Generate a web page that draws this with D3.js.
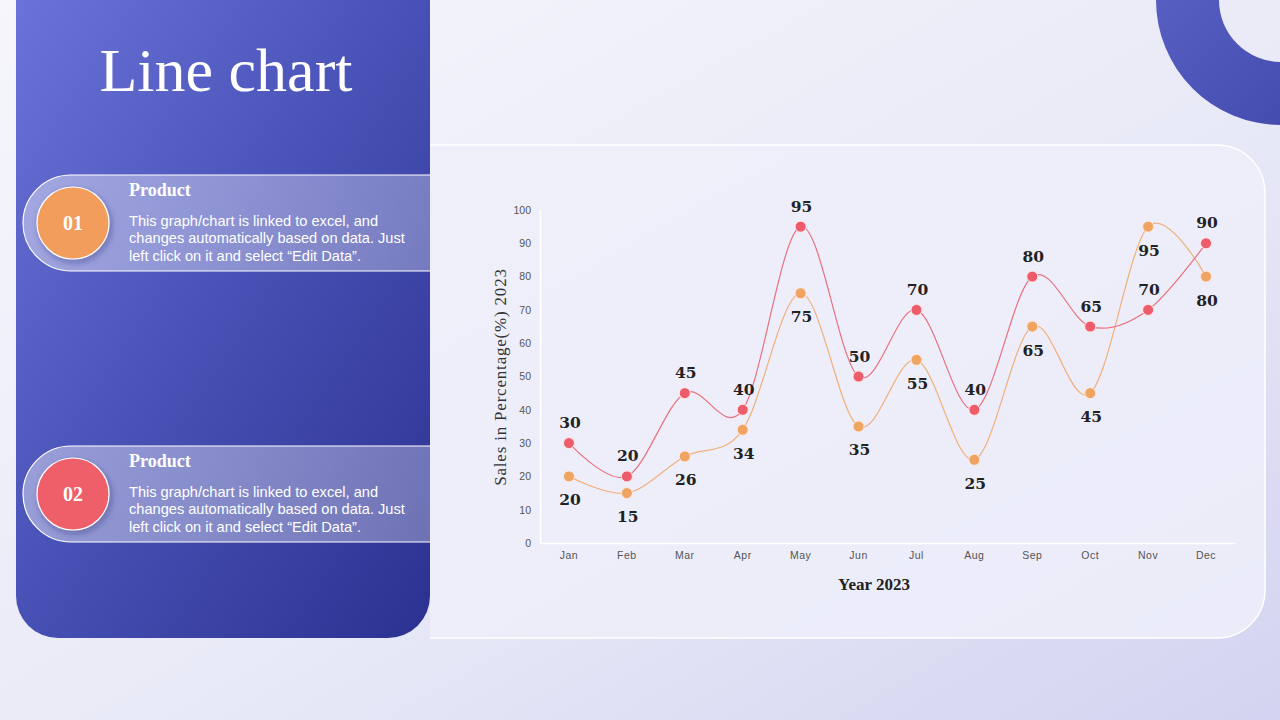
<!doctype html>
<html lang="en">
  <head>
    <title>Line chart</title>
    <style>
      * {
        box-sizing: border-box;
      }

      body {
        margin: 0;
        width: 1280px;
        height: 720px;
        overflow: hidden;
      }
    </style>
  </head>
  <body>
    <div id="slide"></div>

    <script src="https://cdn.jsdelivr.net/npm/d3@7"></script>
    <script>
      const months = ['Jan', 'Feb', 'Mar', 'Apr', 'May', 'Jun', 'Jul', 'Aug', 'Sep', 'Oct', 'Nov', 'Dec']
      const product01 = [20, 15, 26, 34, 75, 35, 55, 25, 65, 45, 95, 80]
      const product02 = [30, 20, 45, 40, 95, 50, 70, 40, 80, 65, 70, 90]
      const yTicks = [0, 10, 20, 30, 40, 50, 60, 70, 80, 90, 100]
      const cardText = ['This graph/chart is linked to excel, and', 'changes automatically based on data. Just', 'left click on it and select “Edit Data”.']

      const width = 1280
      const height = 720
      const serif = '"Liberation Serif", "DejaVu Serif", serif'
      const labelFont = '"DejaVu Serif", serif'
      const sans = '"Liberation Sans", Arial, sans-serif'

      const svg = d3.select('#slide')
        .append('svg')
          .attr('width', width)
          .attr('height', height)

      const defs = svg.append('defs')

      function gradient(id, stops, x1, y1, x2, y2) {
        const g = defs.append('linearGradient')
          .attr('id', id)
          .attr('x1', x1).attr('y1', y1).attr('x2', x2).attr('y2', y2)
        stops.forEach(([o, c, a]) => {
          g.append('stop').attr('offset', o).attr('stop-color', c).attr('stop-opacity', a ?? 1)
        })
      }

      gradient('bg', [[0, '#f6f6fc'], [0.55, '#e9eaf7'], [1, '#d2d3f0']], 0, 0, 1, 1)
      gradient('panel', [[0, '#6b73d8'], [0.5, '#4750b4'], [1, '#2b3190']], 0, 0, 1, 1)
      gradient('ring', [[0, '#6068cc'], [1, '#3c43a6']], 0, 0, 1, 1)
      gradient('card', [[0, '#ffffff', 0.42], [1, '#ffffff', 0.3]], 0, 0, 1, 0)

      const shadow = defs.append('filter').attr('id', 'shadow')
        .attr('x', '-30%').attr('y', '-30%').attr('width', '160%').attr('height', '160%')
      shadow.append('feDropShadow')
        .attr('dx', 2).attr('dy', 3).attr('stdDeviation', 3)
        .attr('flood-color', '#1c1f60').attr('flood-opacity', 0.35)

      // background
      svg.append('rect')
        .attr('width', width).attr('height', height)
        .attr('fill', 'url(#bg)')

      // top-right ring
      svg.append('path')
        .attr('transform', 'translate(1281, 0)')
        .attr('d', d3.arc()({ innerRadius: 62, outerRadius: 125, startAngle: 0, endAngle: 2 * Math.PI }))
        .attr('fill', 'url(#ring)')

      // chart card
      const cx0 = 430, cy0 = 145, cx1 = 1265, cy1 = 638, cr = 48
      svg.append('path')
        .attr('d', `M${cx0},${cy0} H${cx1 - cr} A${cr},${cr} 0 0 1 ${cx1},${cy0 + cr} V${cy1 - cr} A${cr},${cr} 0 0 1 ${cx1 - cr},${cy1} H${cx0}`)
        .attr('fill', '#eeeffa')
        .attr('fill-opacity', 0.85)
        .attr('stroke', '#ffffff')
        .attr('stroke-width', 1.5)

      // left panel
      const px0 = 16, px1 = 430, py1 = 638, pr = 42
      svg.append('path')
        .attr('d', `M${px0},0 H${px1} V${py1 - pr} A${pr},${pr} 0 0 1 ${px1 - pr},${py1} H${px0 + pr} A${pr},${pr} 0 0 1 ${px0},${py1 - pr} Z`)
        .attr('fill', 'url(#panel)')

      svg.append('text')
        .attr('x', 226).attr('y', 91)
        .attr('text-anchor', 'middle')
        .attr('fill', '#ffffff')
        .attr('font-family', serif)
        .attr('font-size', 62)
        .text('Line chart')

      function productCard(top, num, color) {
        const h = 96, r = h / 2, left = 23, right = 430
        const g = svg.append('g')
        g.append('path')
          .attr('d', `M${right},${top} H${left + r} A${r},${r} 0 0 0 ${left + r},${top + h} H${right}`)
          .attr('fill', 'url(#card)')
          .attr('stroke', '#ffffff')
          .attr('stroke-width', 1.2)
        g.append('circle')
          .attr('cx', 73).attr('cy', top + r).attr('r', 36)
          .attr('fill', color)
          .attr('stroke', '#ffffff')
          .attr('stroke-width', 1.2)
          .attr('filter', 'url(#shadow)')
        g.append('text')
          .attr('x', 73).attr('y', top + r + 7)
          .attr('text-anchor', 'middle')
          .attr('fill', '#ffffff')
          .attr('font-family', serif)
          .attr('font-weight', 'bold')
          .attr('font-size', 20)
          .text(num)
        g.append('text')
          .attr('x', 129).attr('y', top + 21)
          .attr('fill', '#ffffff')
          .attr('font-family', serif)
          .attr('font-weight', 'bold')
          .attr('font-size', 18)
          .text('Product')
        g.append('text')
          .attr('fill', '#ffffff')
          .attr('font-family', sans)
          .attr('font-size', 14.6)
          .selectAll('tspan').data(cardText)
          .enter()
            .append('tspan')
              .attr('x', 129)
              .attr('y', (d, i) => top + 51 + i * 17.3)
              .text(d => d)
      }

      productCard(175, '01', '#f29d5c')
      productCard(446, '02', '#ef5e6b')

      // chart
      const x = d3.scaleBand()
        .domain(months)
        .range([540, 1235])
      const y = d3.scaleLinear()
        .domain([0, 100])
        .range([543, 210])

      const chart = svg.append('g')

      const xAxis = d3.axisBottom(x).tickSize(0).tickPadding(9)
      chart.append('g')
        .attr('transform', `translate(0, ${y(0)})`)
        .call(xAxis)
        .call(g => g.select('.domain').attr('stroke', '#ffffff').attr('stroke-width', 1.5))
        .call(g => g.selectAll('text')
          .attr('fill', '#555555')
          .attr('font-family', sans)
          .attr('font-size', 10.5)
          .attr('letter-spacing', 0.5))

      const yAxis = d3.axisLeft(y).tickValues(yTicks).tickSize(0).tickPadding(9)
      chart.append('g')
        .attr('transform', `translate(540, 0)`)
        .call(yAxis)
        .call(g => g.select('.domain').attr('stroke', '#ffffff').attr('stroke-width', 1.5))
        .call(g => g.selectAll('text')
          .attr('fill', '#555555')
          .attr('font-family', sans)
          .attr('font-size', 10.5))

      chart.append('text')
        .attr('transform', `translate(506, 377) rotate(-90)`)
        .attr('text-anchor', 'middle')
        .attr('fill', '#333333')
        .attr('font-family', serif)
        .attr('font-size', 17)
        .attr('letter-spacing', 0.8)
        .text('Sales in Percentage(%) 2023')

      chart.append('text')
        .attr('x', 874).attr('y', 590)
        .attr('text-anchor', 'middle')
        .attr('fill', '#222222')
        .attr('font-family', serif)
        .attr('font-weight', 'bold')
        .attr('font-size', 17)
        .text('Year 2023')

      const line = d3.line()
        .x((d, i) => x(months[i]) + x.bandwidth() / 2)
        .y(d => y(d))
        .curve(d3.curveCatmullRom.alpha(0))

      const series = [
        { values: product01, color: '#f0a462', lineColor: '#f0b07c', above: false },
        { values: product02, color: '#ec5c6a', lineColor: '#e9707c', above: true },
      ]

      series.forEach(s => {
        chart.append('path')
          .attr('d', line(s.values))
          .attr('fill', 'none')
          .attr('stroke', s.lineColor)
          .attr('stroke-width', 1.2)

        chart.selectAll(null).data(s.values)
          .enter()
            .append('circle')
              .attr('cx', (d, i) => x(months[i]) + x.bandwidth() / 2)
              .attr('cy', d => y(d))
              .attr('r', 5.5)
              .attr('fill', s.color)
              .attr('stroke', '#fbe9e6')
              .attr('stroke-width', 1)

        chart.selectAll(null).data(s.values)
          .enter()
            .append('text')
              .attr('x', (d, i) => x(months[i]) + x.bandwidth() / 2 + 1)
              .attr('y', d => y(d) + (s.above ? -15 : 29))
              .attr('text-anchor', 'middle')
              .attr('fill', '#222222')
              .attr('font-family', labelFont)
              .attr('font-weight', 'bold')
              .attr('font-size', 15.5)
              .text(d => d)
      })
    </script>
  </body>
</html>
